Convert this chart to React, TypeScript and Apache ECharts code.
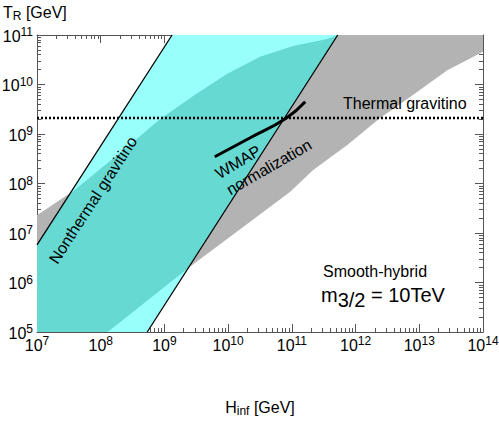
import React, { useEffect, useRef } from "react";
import * as echarts from "echarts";

// Axis ranges (GeV)
const xMin = 1e7;
const xMax = 1e14;
const yMin = 1e5;
const yMax = 1e11;
const xDecades = [7, 8, 9, 10, 11, 12, 13];
const yDecades = [5, 6, 7, 8, 9, 10];
const minorMultipliers = [2, 3, 4, 5, 6, 7, 8, 9];

// Gray band (smooth-hybrid), boundaries as [log10 H, log10 T]
const bandUpperExp = [
  [7.0, 7.36], [7.57, 7.85], [8.41, 8.73], [8.93, 9.3], [9.45, 9.77],
  [9.98, 10.21], [10.5, 10.56], [11.02, 10.78], [11.55, 10.92], [11.72, 11.0],
];
const bandLowerExp = [
  [8.11, 5.0], [9.39, 6.31], [10.97, 7.83], [11.33, 8.27], [11.87, 8.78],
  [12.38, 9.32], [12.9, 9.79], [13.44, 10.29], [14.0, 10.66],
];
// Nonthermal gravitino boundaries (straight lines, log10)
const leftLineExp = [[7.0, 6.76], [9.12, 11.0]];
const rightLineExp = [[8.73, 5.0], [11.72, 11.0]];
// WMAP normalization curve
const wmapExp = [[9.79, 8.54], [10.34, 8.92], [10.91, 9.32], [11.21, 9.65]];
// Thermal gravitino bound
const thermalT = 2.1e9;

const toVal = (p: number[]) => [Math.pow(10, p[0]), Math.pow(10, p[1])];

const GRAY = "#b3b3b3";
const CYAN = "#99fffa";
const TEAL = "#66d9d2";
const FONT = "Liberation Sans, Arial, sans-serif";
const AXIS_COLOR = "#555";

function minorValues(decades: number[]) {
  const out: number[] = [];
  decades.forEach((d) => minorMultipliers.forEach((m) => out.push(m * Math.pow(10, d))));
  return out;
}

export default function App() {
  const ref = useRef<HTMLDivElement>(null);
  useEffect(() => {
    if (!ref.current) return;
    const chart = echarts.init(ref.current, undefined, { renderer: "svg" });

    const bandPoly = [
      ...bandUpperExp.map(toVal),
      [xMax, yMax],
      ...bandLowerExp.slice().reverse().map(toVal),
      [xMin, yMin],
    ];
    const leftLine = leftLineExp.map(toVal);
    const rightLine = rightLineExp.map(toVal);
    const paraPoly = [leftLine[0], leftLine[1], rightLine[1], rightLine[0], [xMin, yMin]];

    const labelRich = {
      b: { fontSize: 16, lineHeight: 20, fontFamily: FONT, color: "#000" },
      s: { fontSize: 12, lineHeight: 11, verticalAlign: "top", fontFamily: FONT, color: "#000" },
    };
    const fmt = (v: number) => `{b|10}{s|${Math.round(Math.log10(v))}}`;

    const xMajor = (pos: string, labels: boolean) => ({
      type: "log", logBase: 10, min: xMin, max: xMax, position: pos, splitNumber: 7,
      axisLine: { show: true, onZero: false, lineStyle: { color: AXIS_COLOR, width: 1 } },
      axisTick: { show: true, inside: true, length: 8, lineStyle: { color: AXIS_COLOR, width: 1 } },
      axisLabel: labels
        ? { show: true, formatter: fmt, rich: labelRich, margin: 3 }
        : { show: false },
      splitLine: { show: false }, minorTick: { show: false },
    });
    const xMinor = (pos: string) => ({
      type: "log", logBase: 10, min: xMin, max: xMax, position: pos,
      axisLine: { show: false, onZero: false },
      axisTick: { show: true, inside: true, length: 4, customValues: minorValues(xDecades), lineStyle: { color: AXIS_COLOR, width: 1 } },
      axisLabel: { show: false }, splitLine: { show: false },
    });
    const yMajor = (pos: string, labels: boolean) => ({
      type: "log", logBase: 10, min: yMin, max: yMax, position: pos, splitNumber: 6,
      axisLine: { show: true, onZero: false, lineStyle: { color: AXIS_COLOR, width: 1 } },
      axisTick: { show: true, inside: true, length: 8, lineStyle: { color: AXIS_COLOR, width: 1 } },
      axisLabel: labels
        ? { show: true, formatter: fmt, rich: labelRich, margin: 4, padding: [2, 0, 0, 0] }
        : { show: false },
      splitLine: { show: false }, minorTick: { show: false },
    });
    const yMinor = (pos: string) => ({
      type: "log", logBase: 10, min: yMin, max: yMax, position: pos,
      axisLine: { show: false, onZero: false },
      axisTick: { show: true, inside: true, length: 4, customValues: minorValues(yDecades), lineStyle: { color: AXIS_COLOR, width: 1 } },
      axisLabel: { show: false }, splitLine: { show: false },
    });

    const option: any = {
      animation: false,
      backgroundColor: "#fff",
      textStyle: { fontFamily: FONT },
      grid: { left: 37, top: 35, right: 16, bottom: 89, containLabel: false, outerBoundsMode: "none" },
      xAxis: [xMajor("bottom", true), xMinor("bottom"), xMajor("top", false), xMinor("top")],
      yAxis: [yMajor("left", true), yMinor("left"), yMajor("right", false), yMinor("right")],
      series: [
        {
          type: "custom", z: 1, silent: true, data: [[xMin, yMin]],
          renderItem: (params: any, api: any) => {
            const cs = params.coordSys;
            return {
              type: "polygon",
              shape: { points: bandPoly.map((p) => api.coord(p)) },
              style: { fill: GRAY, stroke: "none" },
              clipPath: { type: "rect", shape: { x: cs.x, y: cs.y, width: cs.width, height: cs.height } },
            };
          },
        },
        {
          type: "custom", z: 2, silent: true, data: [[xMin, yMin]],
          renderItem: (params: any, api: any) => {
            const cs = params.coordSys;
            return {
              type: "polygon",
              shape: { points: paraPoly.map((p) => api.coord(p)) },
              style: { fill: CYAN, stroke: "none" },
              clipPath: { type: "rect", shape: { x: cs.x, y: cs.y, width: cs.width, height: cs.height } },
            };
          },
        },
        {
          type: "custom", z: 3, silent: true, data: [[xMin, yMin]],
          renderItem: (params: any, api: any) => ({
            type: "polygon",
            shape: { points: bandPoly.map((p) => api.coord(p)) },
            style: { fill: TEAL, stroke: "none" },
            clipPath: { type: "polygon", shape: { points: paraPoly.map((p) => api.coord(p)) } },
          }),
        },
        {
          type: "line", z: 5, silent: true, symbol: "none", data: leftLine,
          lineStyle: { color: "#000", width: 1.3 },
        },
        {
          type: "line", z: 5, silent: true, symbol: "none", data: rightLine,
          lineStyle: { color: "#000", width: 1.3 },
        },
        {
          type: "line", z: 6, silent: true, symbol: "none", smooth: true, data: wmapExp.map(toVal),
          lineStyle: { color: "#000", width: 3 },
        },
        {
          type: "line", z: 6, silent: true, symbol: "none", data: [[xMin, thermalT], [xMax, thermalT]],
          lineStyle: { color: "#000", width: 2.5, type: [2, 2] },
        },
      ],
      graphic: [
        {
          type: "text", x: 3, y: 12,
          style: {
            text: "{a|T}{sub|R}{a| [GeV]}", align: "left", verticalAlign: "middle",
            rich: {
              a: { fontSize: 16, lineHeight: 20, fontFamily: FONT, fill: "#000" },
              sub: { fontSize: 12, lineHeight: 14, verticalAlign: "bottom", fontFamily: FONT, fill: "#000" },
            },
          },
        },
        {
          type: "text", x: 260, y: 407,
          style: {
            text: "{a|H}{sub|inf}{a| [GeV]}", align: "center", verticalAlign: "middle",
            rich: {
              a: { fontSize: 16, lineHeight: 20, fontFamily: FONT, fill: "#000" },
              sub: { fontSize: 12, lineHeight: 8, verticalAlign: "bottom", fontFamily: FONT, fill: "#000" },
            },
          },
        },
        {
          type: "text", x: 93, y: 200, rotation: (57 * Math.PI) / 180, z: 10,
          style: { text: "Nonthermal gravitino", fontSize: 16, fontFamily: FONT, fill: "#000", align: "center", verticalAlign: "middle" },
        },
        {
          type: "text", x: 238, y: 162, rotation: (31 * Math.PI) / 180, z: 10,
          style: { text: "WMAP", fontSize: 16, fontFamily: FONT, fill: "#000", align: "center", verticalAlign: "middle" },
        },
        {
          type: "text", x: 269, y: 167, rotation: (30 * Math.PI) / 180, z: 10,
          style: { text: "normalization", fontSize: 16, fontFamily: FONT, fill: "#000", align: "center", verticalAlign: "middle" },
        },
        {
          type: "text", x: 343, y: 103, z: 10,
          style: { text: "Thermal gravitino", fontSize: 16, fontFamily: FONT, fill: "#000", align: "left", verticalAlign: "middle" },
        },
        {
          type: "text", x: 323, y: 271, z: 10,
          style: { text: "Smooth-hybrid", fontSize: 16, fontFamily: FONT, fill: "#000", align: "left", verticalAlign: "middle" },
        },
        {
          type: "text", x: 321, y: 295, z: 10,
          style: {
            text: "{m|m}{sub|3/2}{m| = 10TeV}", align: "left", verticalAlign: "middle",
            rich: {
              m: { fontSize: 20, lineHeight: 30, fontFamily: FONT, fill: "#000" },
              sub: { fontSize: 20, lineHeight: 10, verticalAlign: "bottom", fontFamily: FONT, fill: "#000" },
            },
          },
        },
      ],
    };
    chart.setOption(option);
    return () => chart.dispose();
  }, []);
  return <div ref={ref} style={{ width: 499, height: 421, position: "absolute", left: 0, top: 0 }} />;
}
